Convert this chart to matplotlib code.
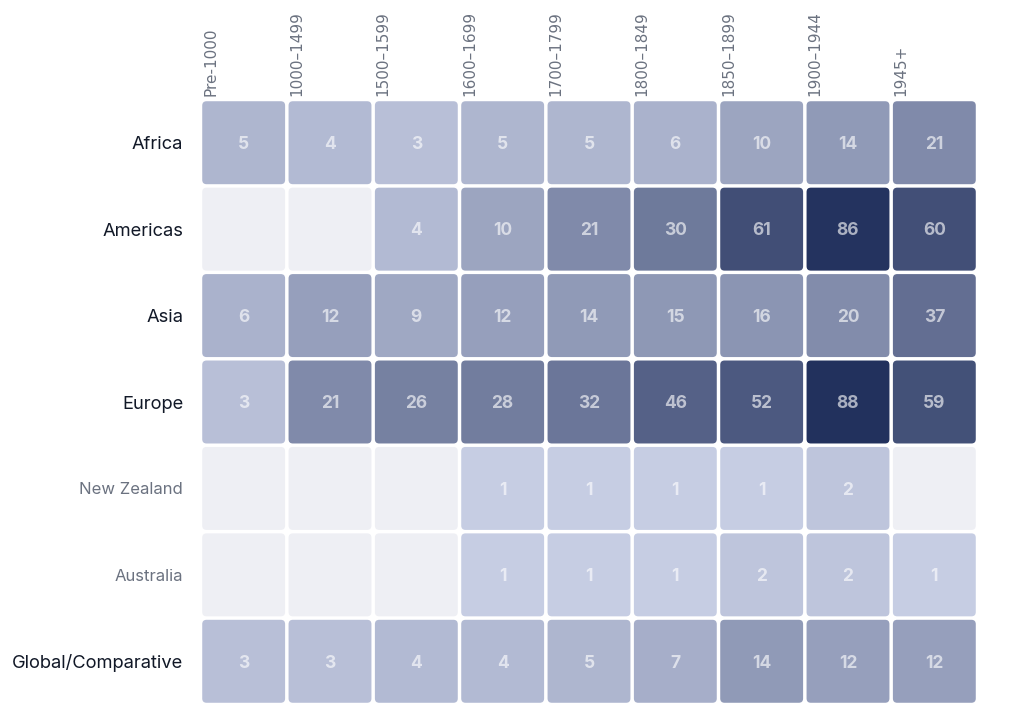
import numpy as np
import matplotlib
matplotlib.use("Agg")
import matplotlib.pyplot as plt
from matplotlib.patches import FancyBboxPatch
from matplotlib.colors import to_rgb

# -------------------------------------------------
# Datos
periods = ["Pre-1000", "1000–1499", "1500–1599", "1600–1699", "1700–1799",
           "1800–1849", "1850–1899", "1900–1944", "1945+"]
regions = ["Africa", "Americas", "Asia", "Europe", "New Zealand", "Australia",
           "Global/Comparative"]
muted_regions = ["New Zealand", "Australia"]

# 0 = sin datos
africa = [5, 4, 3, 5, 5, 6, 10, 14, 21]
americas = [0, 0, 4, 10, 21, 30, 61, 86, 60]
asia = [6, 12, 9, 12, 14, 15, 16, 20, 37]
europe = [3, 21, 26, 28, 32, 46, 52, 88, 59]
new_zealand = [0, 0, 0, 1, 1, 1, 1, 2, 0]
australia = [0, 0, 0, 1, 1, 1, 2, 2, 1]
global_comp = [3, 3, 4, 4, 5, 7, 14, 12, 12]

counts = np.array([africa, americas, asia, europe, new_zealand, australia, global_comp])

# -------------------------------------------------
# Colores
light = np.array(to_rgb("#c6cde3"))
dark = np.array(to_rgb("#22315d"))
empty_color = "#eeeff4"
vmin, vmax = 1, counts.max()


def cell_color(v):
    # escala raiz cuadrada
    t = (np.sqrt(v) - np.sqrt(vmin)) / (np.sqrt(vmax) - np.sqrt(vmin))
    t = min(max(t, 0), 1)
    return tuple(light + (dark - light) * t)


plt.rcParams['font.family'] = ['Inter', 'DejaVu Sans']

fig = plt.figure(figsize=(10.16, 7.14), dpi=100)
W, H = 1016, 714
left, right, top, bottom = 200.5, 977.5, 99.5, 704.5
ax = fig.add_axes([left / W, 1 - bottom / H, (right - left) / W, (bottom - top) / H])

nrows, ncols = counts.shape
gap = 0.02
for r in range(nrows):
    for c in range(ncols):
        v = counts[r, c]
        fc = cell_color(v) if v > 0 else empty_color
        box = FancyBboxPatch((c - 0.5 + gap, r - 0.5 + gap), 1 - 2 * gap, 1 - 2 * gap,
                             boxstyle="round,pad=0,rounding_size=0.05",
                             fc=fc, ec="none")
        ax.add_patch(box)
        if v > 0:
            ax.text(c, r + 0.02, str(v), ha="center", va="center", color="white", alpha=0.62,
                    fontsize=12.5, fontweight="bold")

ax.set_xlim(-0.5, ncols - 0.5)
ax.set_ylim(nrows - 0.5, -0.5)
for s in ax.spines.values():
    s.set_visible(False)
ax.set_xticks([])
ax.set_yticks(range(nrows))
ax.set_yticklabels(regions)
ax.tick_params(axis="y", length=0, pad=12.5, labelsize=13.2)
for lab in ax.get_yticklabels():
    if lab.get_text() in muted_regions:
        lab.set_color("#6b7280")
        lab.set_fontsize(12)
    else:
        lab.set_color("#111827")

# etiquetas de columnas
for c, p in enumerate(periods):
    ax.text(c - 0.5 + 0.03, -0.5 - 0.035, p, rotation=90, ha="left", va="bottom",
            color="#6b7280", fontsize=11, family="DejaVu Sans")

fig.savefig("out.png", dpi=100, facecolor="white")
